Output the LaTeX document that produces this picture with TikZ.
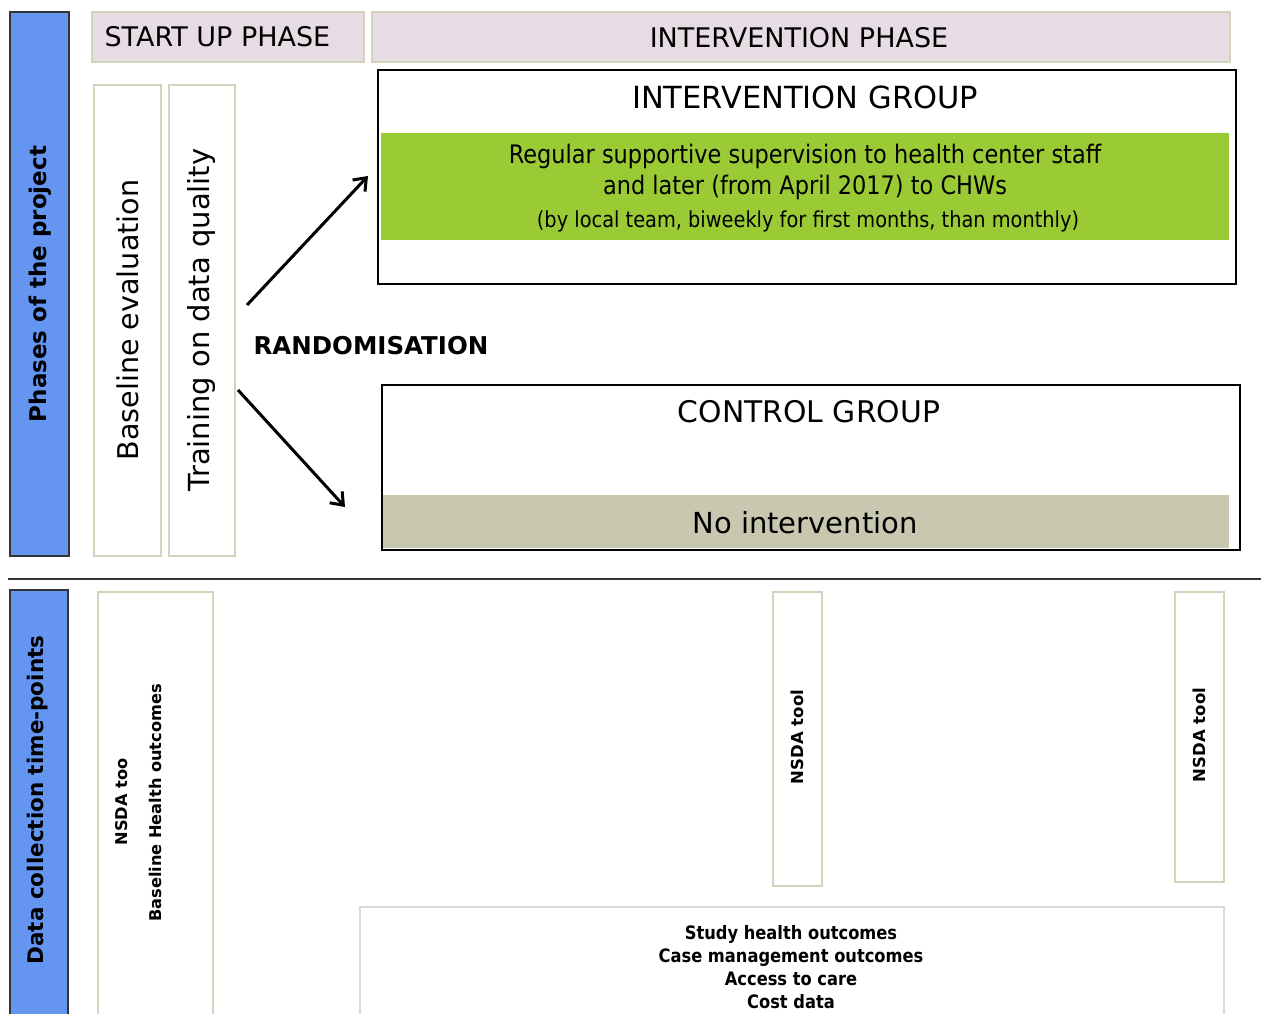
\documentclass[tikz,border=0pt]{standalone}
\usepackage{fontspec}
\setmainfont{DejaVu Sans}
\newfontfamily\condfont[FakeStretch=0.88]{DejaVu Sans}
\usetikzlibrary{arrows.meta}
\newcommand\fsz[2]{\fontsize{#1}{#2}\selectfont}
\definecolor{barblue}{HTML}{6495F0}
\definecolor{phasepink}{HTML}{E8DCE4}
\definecolor{beige}{HTML}{D4D4BC}
\definecolor{greenbar}{HTML}{9ACB34}
\definecolor{khaki}{HTML}{C8C8B0}
\tikzset{
  bluebar/.style={draw=black!80, fill=barblue, line width=1.2pt},
  phasebox/.style={draw=beige, fill=phasepink, line width=1.5pt},
  stagebox/.style={draw=beige, fill=white, line width=1.5pt},
  groupbox/.style={draw=black, line width=1.5pt},
  arr/.style={-{Straight Barb[length=11pt,width=17pt]}, line width=3pt},
}
\begin{document}
\begin{tikzpicture}[x=1pt,y=-1pt]
\useasboundingbox (0,0) rectangle (1261,1014);
\fill[white] (0,0) rectangle (1261,1014);
% blue side bars
\draw[bluebar] (10,12) rectangle (69,556);
\node[rotate=90, font=\fsz{23}{27}\bfseries] (phaseslbl) at (40,284) {Phases of the project};
\draw[bluebar] (10,590) rectangle (68,1020);
\node[rotate=90, font=\fsz{21.5}{26}\bfseries] (datalbl) at (38,800) {Data collection time-points};
% phase headers
\draw[phasebox] (92,12) rectangle (364,62);
\node[font=\fsz{27}{32}, anchor=west] (startup) at (101,37) {START UP PHASE};
\draw[phasebox] (372,12) rectangle (1230,62);
\node[font=\fsz{27}{32}] (intphase) at (799,38) {INTERVENTION PHASE};
% start-up stages
\draw[stagebox] (94,85) rectangle (161,556);
\node[rotate=90, font=\fsz{28.6}{34}] (baseline) at (128,320) {Baseline evaluation};
\draw[stagebox] (169,85) rectangle (235,556);
\node[rotate=90, font=\fsz{29}{35}] (training) at (201,320) {Training on data quality};
% intervention group
\draw[groupbox] (378,70) rectangle (1236,284);
\node[font=\fsz{30.5}{36}] (igtitle) at (805,97) {INTERVENTION GROUP};
\fill[greenbar] (381,133) rectangle (1229,240);
\node[font=\condfont\fsz{25.5}{31}, align=center] (igtext) at (805,172) {Regular supportive supervision to health center staff\\ and later (from April 2017) to CHWs};
\node[font=\condfont\fsz{22}{26}] (igsub) at (808,221) {(by local team, biweekly for first months, than monthly)};
% randomisation
\node[font=\fsz{24.5}{29}\bfseries, anchor=west] (rand) at (250,346) {RANDOMISATION};
\coordinate (a1s) at (247,305);
\coordinate (a1e) at (368,176);
\coordinate (a2s) at (238,390);
\coordinate (a2e) at (345,507);
\draw[arr] (a1s) -- (a1e);
\draw[arr] (a2s) -- (a2e);
% control group
\draw[groupbox] (382,385) rectangle (1240,550);
\node[font=\fsz{29.8}{35}] (cgtitle) at (809,412) {CONTROL GROUP};
\fill[khaki] (383,495) rectangle (1229,548);
\node[font=\fsz{29}{35}] (noint) at (805,523) {No intervention};
% separator
\draw[line width=2pt, black!80] (8,579) -- (1261,579);
% data collection boxes
\draw[stagebox] (98,592) rectangle (213,1020);
\node[rotate=90, font=\fsz{16.2}{19}\bfseries] (nsda0) at (122,802) {NSDA too};
\node[rotate=90, font=\fsz{16.2}{19}\bfseries] (bho) at (155,803) {Baseline Health outcomes};
\draw[stagebox] (773,592) rectangle (822,886);
\node[rotate=90, font=\fsz{16.5}{19}\bfseries] (nsda1) at (797,737) {NSDA tool};
\draw[stagebox] (1175,592) rectangle (1224,882);
\node[rotate=90, font=\fsz{16.5}{19}\bfseries] (nsda2) at (1199,735) {NSDA tool};
\draw[draw=black!15, line width=1.5pt] (360,907) rectangle (1224,1020);
\node[font=\condfont\fsz{18.5}{23}\bfseries, align=center, inner sep=0pt] (outc) at (791,967) {Study health outcomes\\ Case management outcomes\\ Access to care\\ Cost data};
\end{tikzpicture}
\end{document}
